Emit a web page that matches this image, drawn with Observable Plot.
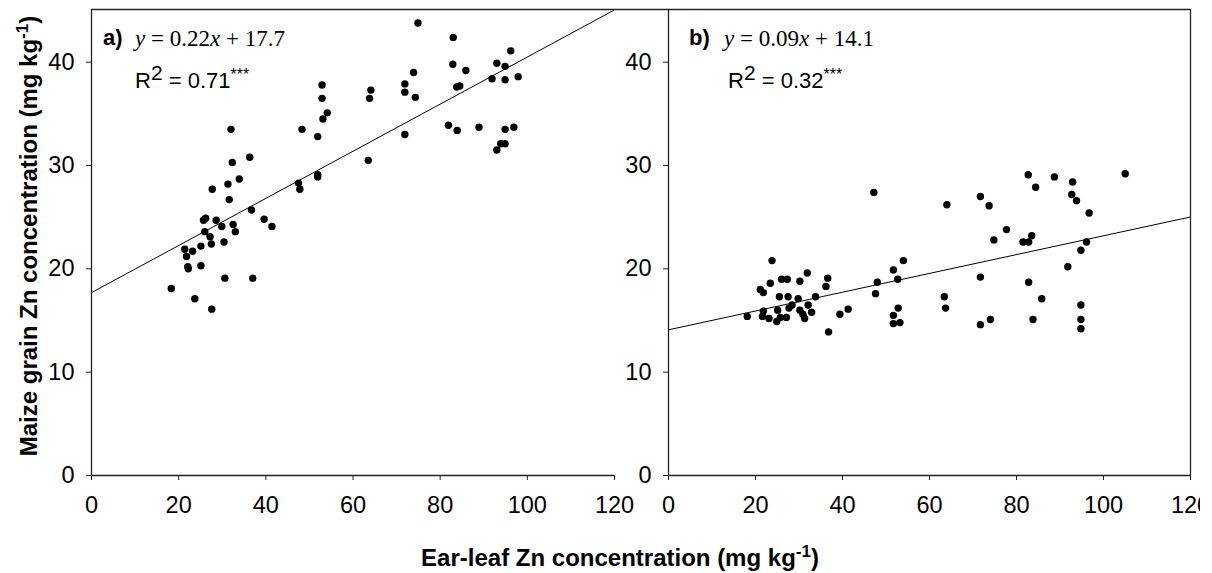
<!DOCTYPE html>
<html><head><meta charset="utf-8">
<script src="https://cdn.jsdelivr.net/npm/d3@7"></script>
<script src="https://cdn.jsdelivr.net/npm/@observablehq/plot@0.6"></script>
<style>
body{margin:0;background:#fff;}
#root{position:relative;width:1212px;height:573px;overflow:hidden;font-family:"Liberation Sans",Arial,sans-serif;}
.pa{position:absolute;left:0;top:0;}
.pb{position:absolute;left:614px;top:0;width:586px;height:573px;overflow:hidden;}
.pa svg,.pb svg{max-width:none;}
#ov{position:absolute;left:0;top:0;pointer-events:none;}
</style></head>
<body><div id="root"></div>
<script>
// Panel a: ear-leaf Zn (x) vs grain Zn (y)
const aX = [18.3,23.7,27.6,21.4,21.8,23.2,22.1,22.2,25.1,25.1,26.0,25.7,26.2,27.2,27.5,27.7,28.6,29.9,30.4,30.6,31.3,31.6,32.0,32.3,32.5,33.0,33.9,36.3,36.7,37.0,39.6,41.4,47.5,47.8,48.3,51.9,51.9,51.9,52.9,52.9,53.1,54.1,63.5,63.8,64.1,71.9,71.9,73.9,74.3,71.9,74.9,83.0,82.9,85.9,83.8,84.5,81.9,83.9,88.9,93.0,94.9,96.2,91.9,94.9,97.9,94.9,96.9,93.9,94.9,93.0];
const aY = [18.1,17.1,16.1,21.9,21.2,21.7,20.2,20.0,22.2,20.3,23.6,24.7,24.9,23.1,22.4,27.7,24.7,24.1,22.6,19.1,28.2,26.7,33.5,30.3,24.3,23.6,28.7,30.8,25.7,19.1,24.8,24.1,28.3,27.7,33.5,32.8,29.1,28.9,37.8,36.5,34.5,35.1,30.5,36.5,37.3,37.9,37.1,39.0,36.6,33.0,43.8,42.4,39.8,39.2,37.6,37.7,33.9,33.4,33.7,39.9,39.6,41.1,38.4,38.3,38.6,33.5,33.7,32.1,32.1,31.5];
// Panel b
const bX = [47.2,23.8,54.0,51.7,52.7,48.0,47.6,21.1,21.8,23.4,26.0,27.3,30.2,31.9,36.6,36.2,25.5,27.5,29.8,33.8,18.1,21.8,21.6,23.1,24.9,25.1,25.7,27.1,27.7,28.4,30.2,30.9,31.3,32.1,32.9,36.8,39.4,41.3,51.7,52.8,51.7,53.2,63.4,63.7,64.0,71.7,73.7,71.7,74.8,77.7,81.5,82.8,83.5,82.7,84.4,88.7,92.9,92.7,93.8,96.7,96.1,94.8,91.8,82.8,85.8,105.0,71.7,74.0,83.8,94.8,94.8,94.8];
const bY = [27.4,20.8,20.8,19.9,19.0,18.7,17.6,18.0,17.7,18.6,19.0,19.0,18.8,19.6,19.1,18.3,17.3,17.3,17.1,17.3,15.4,15.9,15.4,15.2,14.9,16.0,15.3,15.3,16.2,16.5,16.0,15.6,15.2,16.5,15.8,13.9,15.6,16.1,15.5,16.2,14.7,14.8,17.3,16.2,26.2,27.0,26.1,19.2,22.8,23.8,22.6,22.6,23.2,29.1,27.9,28.9,28.4,27.2,26.6,25.4,22.6,21.8,20.2,18.7,17.1,29.2,14.6,15.1,15.1,16.5,15.1,14.2];

const xTicks = [0,20,40,60,80,100,120];
const yTicks = [0,10,20,30,40];
const xDomain = [0,120];
const yDomain = [0,45.1];
const fitA = {slope:0.228, intercept:17.7, eq:["0.22","17.7"], r2:"0.71", tag:"a)"};
const fitB = {slope:0.091, intercept:14.1, eq:["0.09","14.1"], r2:"0.32", tag:"b)"};
const xTitle = "Ear-leaf Zn concentration (mg kg";
const yTitle = "Maize grain Zn concentration (mg kg";

const FONT = '"Liberation Sans", Arial, sans-serif';
const INK = "#222";

function panel(xs, ys, fit, opts){
  const pts = xs.map((x,i)=>({x, y: ys[i]}));
  const line = xDomain.map(x=>({x, y: fit.intercept + fit.slope*x}));
  const marks = [
    Plot.line(line, {x:"x", y:"y", stroke:"#000", strokeWidth:1, clip:true}),
    Plot.dot(pts, {x:"x", y:"y", r:3.7, fill:"#000", stroke:"none"}),
    Plot.axisX({ticks:xTicks, tickSize:5, tickPadding:16, fontSize:23.5, label:null, stroke:INK, fill:"#000"}),
    Plot.axisY({ticks:yTicks, tickSize:5, tickPadding:12, fontSize:23.5, label:null, stroke:INK, fill:"#000"}),
    Plot.ruleX([xDomain[0]], {stroke:INK, strokeWidth:1.3}),
    Plot.ruleY([yDomain[0]], {stroke:INK, strokeWidth:1.3}),
    Plot.ruleY([yDomain[1]], {stroke:INK, strokeWidth:1.3, insetLeft: opts.topInsetLeft})
  ];
  if (opts.rightFrame) marks.push(Plot.ruleX([xDomain[1]], {stroke:INK, strokeWidth:1.3}));
  return Plot.plot({
    width: opts.width, height: 573,
    marginLeft: opts.ml, marginRight: opts.mr, marginTop: 9, marginBottom: 98,
    x: {domain: xDomain},
    y: {domain: yDomain},
    style: {fontFamily: FONT, fontSize: "23.5px", color:"#000", background:"transparent", overflow:"visible"},
    marks
  });
}

const root = document.getElementById("root");
const da = document.createElement("div"); da.className = "pa";
const db = document.createElement("div"); db.className = "pb";
const svgA = panel(aX, aY, fitA, {width:640, ml:91, mr:26, topInsetLeft:0, rightFrame:false});
const svgB = panel(bX, bY, fitB, {width:598, ml:54, mr:22, topInsetLeft:-54, rightFrame:true});
da.appendChild(svgA); db.appendChild(svgB);
root.appendChild(da); root.appendChild(db);

// annotations
function annotate(svg, fit, left, eqOff, rOff){
  const g = d3.select(svg).append("g").attr("text-anchor","start").attr("fill","#000");
  g.append("text").attr("x", left).attr("y", 45)
    .attr("font-family", FONT).attr("font-weight","bold").attr("font-size", 22).text(fit.tag);
  const eq = g.append("text").attr("x", left + eqOff).attr("y", 46)
    .attr("font-family", '"Liberation Serif", "Times New Roman", serif').attr("font-size", 23);
  eq.append("tspan").attr("font-style","italic").text("y");
  eq.append("tspan").text(" = " + fit.eq[0]);
  eq.append("tspan").attr("font-style","italic").text("x");
  eq.append("tspan").text(" + " + fit.eq[1]);
  const r = g.append("text").attr("x", left + rOff).attr("y", 88)
    .attr("font-family", FONT).attr("font-size", 22);
  r.append("tspan").text("R");
  r.append("tspan").attr("dy", -8).attr("font-size", 21).text("2");
  r.append("tspan").attr("dy", 8).text(" = " + fit.r2);
  r.append("tspan").attr("dy", -8).attr("font-size", 16).text("***");
}
annotate(svgA, fitA, 103, 32, 32);
annotate(svgB, fitB, 689 - 614, 35, 39);

// axis titles overlay
const ov = d3.select(root).append("svg").attr("id","ov").attr("width",1212).attr("height",573);
const xt = ov.append("text").attr("x", 620).attr("y", 566).attr("text-anchor","middle")
  .attr("font-family", FONT).attr("font-weight","bold").attr("font-size", 24);
xt.append("tspan").text(xTitle);
xt.append("tspan").attr("dy", -9).attr("font-size", 17).text("-1");
xt.append("tspan").attr("dy", 9).text(")");
const yt = ov.append("text").attr("transform","translate(37,236) rotate(-90)").attr("text-anchor","middle")
  .attr("font-family", FONT).attr("font-weight","bold").attr("font-size", 24);
yt.append("tspan").text(yTitle);
yt.append("tspan").attr("dy", -9).attr("font-size", 17).text("-1");
yt.append("tspan").attr("dy", 9).text(")");
</script>
</body></html>
